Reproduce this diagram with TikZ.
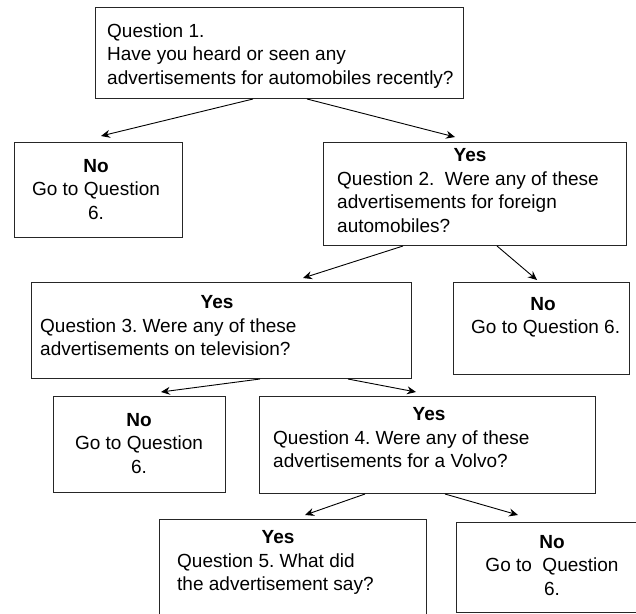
\documentclass[tikz,border=0pt]{standalone}
\usepackage{fontspec}
\setmainfont{Liberation Sans}
\usetikzlibrary{arrows.meta}
\frenchspacing
\begin{document}
\begin{tikzpicture}[x=1pt,y=-1pt,
  box/.style={draw=black!85,line width=1pt,inner sep=0pt,anchor=north west,fill=none},
  txtl/.style={anchor=base west,align=left,inner sep=0pt,font=\fontsize{19}{23.5}\selectfont},
  txtc/.style={anchor=base,align=center,inner sep=0pt,font=\fontsize{19}{23.5}\selectfont},
  yes/.style={anchor=base,inner sep=0pt,font=\fontsize{19}{23.5}\selectfont\bfseries},
  arr/.style={draw=black,line width=0.9pt,-{Stealth[length=9pt,width=8pt,inset=3pt]}}
]
\clip (0,0) rectangle (636,613);
% boxes
\node[box,minimum width=368pt,minimum height=91pt]  (q1)  at (95,7) {};
\node[box,minimum width=168pt,minimum height=95pt]  (no1) at (14,142) {};
\node[box,minimum width=303pt,minimum height=103pt] (q2)  at (323,142) {};
\node[box,minimum width=380pt,minimum height=96pt]  (q3)  at (31,282) {};
\node[box,minimum width=176pt,minimum height=92pt]  (no2) at (453,282) {};
\node[box,minimum width=172pt,minimum height=96pt]  (no3) at (53,396) {};
\node[box,minimum width=336pt,minimum height=97pt]  (q4)  at (259,396) {};
\node[box,minimum width=267pt,minimum height=106pt] (q5)  at (159,519) {};
\node[box,minimum width=194pt,minimum height=90pt]  (no4) at (456,522) {};
% texts (anchor base = baseline of the last line)
\node[txtl] (q1txt) at (107,84) {Question 1.\\Have you heard or seen any\\advertisements for automobiles recently?};
\node[txtc] (no1txt) at (96,219) {\textbf{No}\\Go to Question\\6.};
\node[yes] (q2yes) at (470,161) {Yes};
\node[txtl] (q2txt) at (337,232) {Question 2.\ \ Were any of these\\advertisements for foreign\\automobiles?};
\node[yes] (q3yes) at (217,308) {Yes};
\node[txtl] (q3txt) at (40,355.5) {Question 3. Were any of these\\advertisements on television?};
\node[txtc] (no2txt) at (543,333.5) {\textbf{No}\\\ Go to Question 6.};
\node[txtc] (no3txt) at (139,473) {\textbf{No}\\Go to Question\\6.};
\node[yes] (q4yes) at (429,420) {Yes};
\node[txtl] (q4txt) at (273,467.5) {Question 4. Were any of these\\advertisements for a Volvo?};
\node[yes] (q5yes) at (278,543) {Yes};
\node[txtl] (q5txt) at (177,590.5) {Question 5. What did\\the advertisement say?};
\node[txtc] (no4txt) at (552,595) {\textbf{No}\\Go to\ \ Question\\6.};
% connectors
\draw[arr] ([xshift=158pt]q1.south west) -- ([xshift=87pt,yshift=6pt]no1.north west);
\draw[arr] ([xshift=212pt]q1.south west) -- ([xshift=132pt,yshift=5pt]q2.north west);
\draw[arr] ([xshift=80pt]q2.south west) -- ([xshift=272pt,yshift=4pt]q3.north west);
\draw[arr] ([xshift=174pt]q2.south west) -- ([xshift=84pt,yshift=2pt]no2.north west);
\draw[arr] ([xshift=229pt]q3.south west) -- ([xshift=108pt,yshift=4pt]no3.north west);
\draw[arr] ([xshift=317pt]q3.south west) -- ([xshift=157pt,yshift=4pt]q4.north west);
\draw[arr] ([xshift=106pt]q4.south west) -- ([xshift=146pt,yshift=4pt]q5.north west);
\draw[arr] ([xshift=186pt]q4.south west) -- ([xshift=62pt,yshift=7pt]no4.north west);
\end{tikzpicture}
\end{document}
